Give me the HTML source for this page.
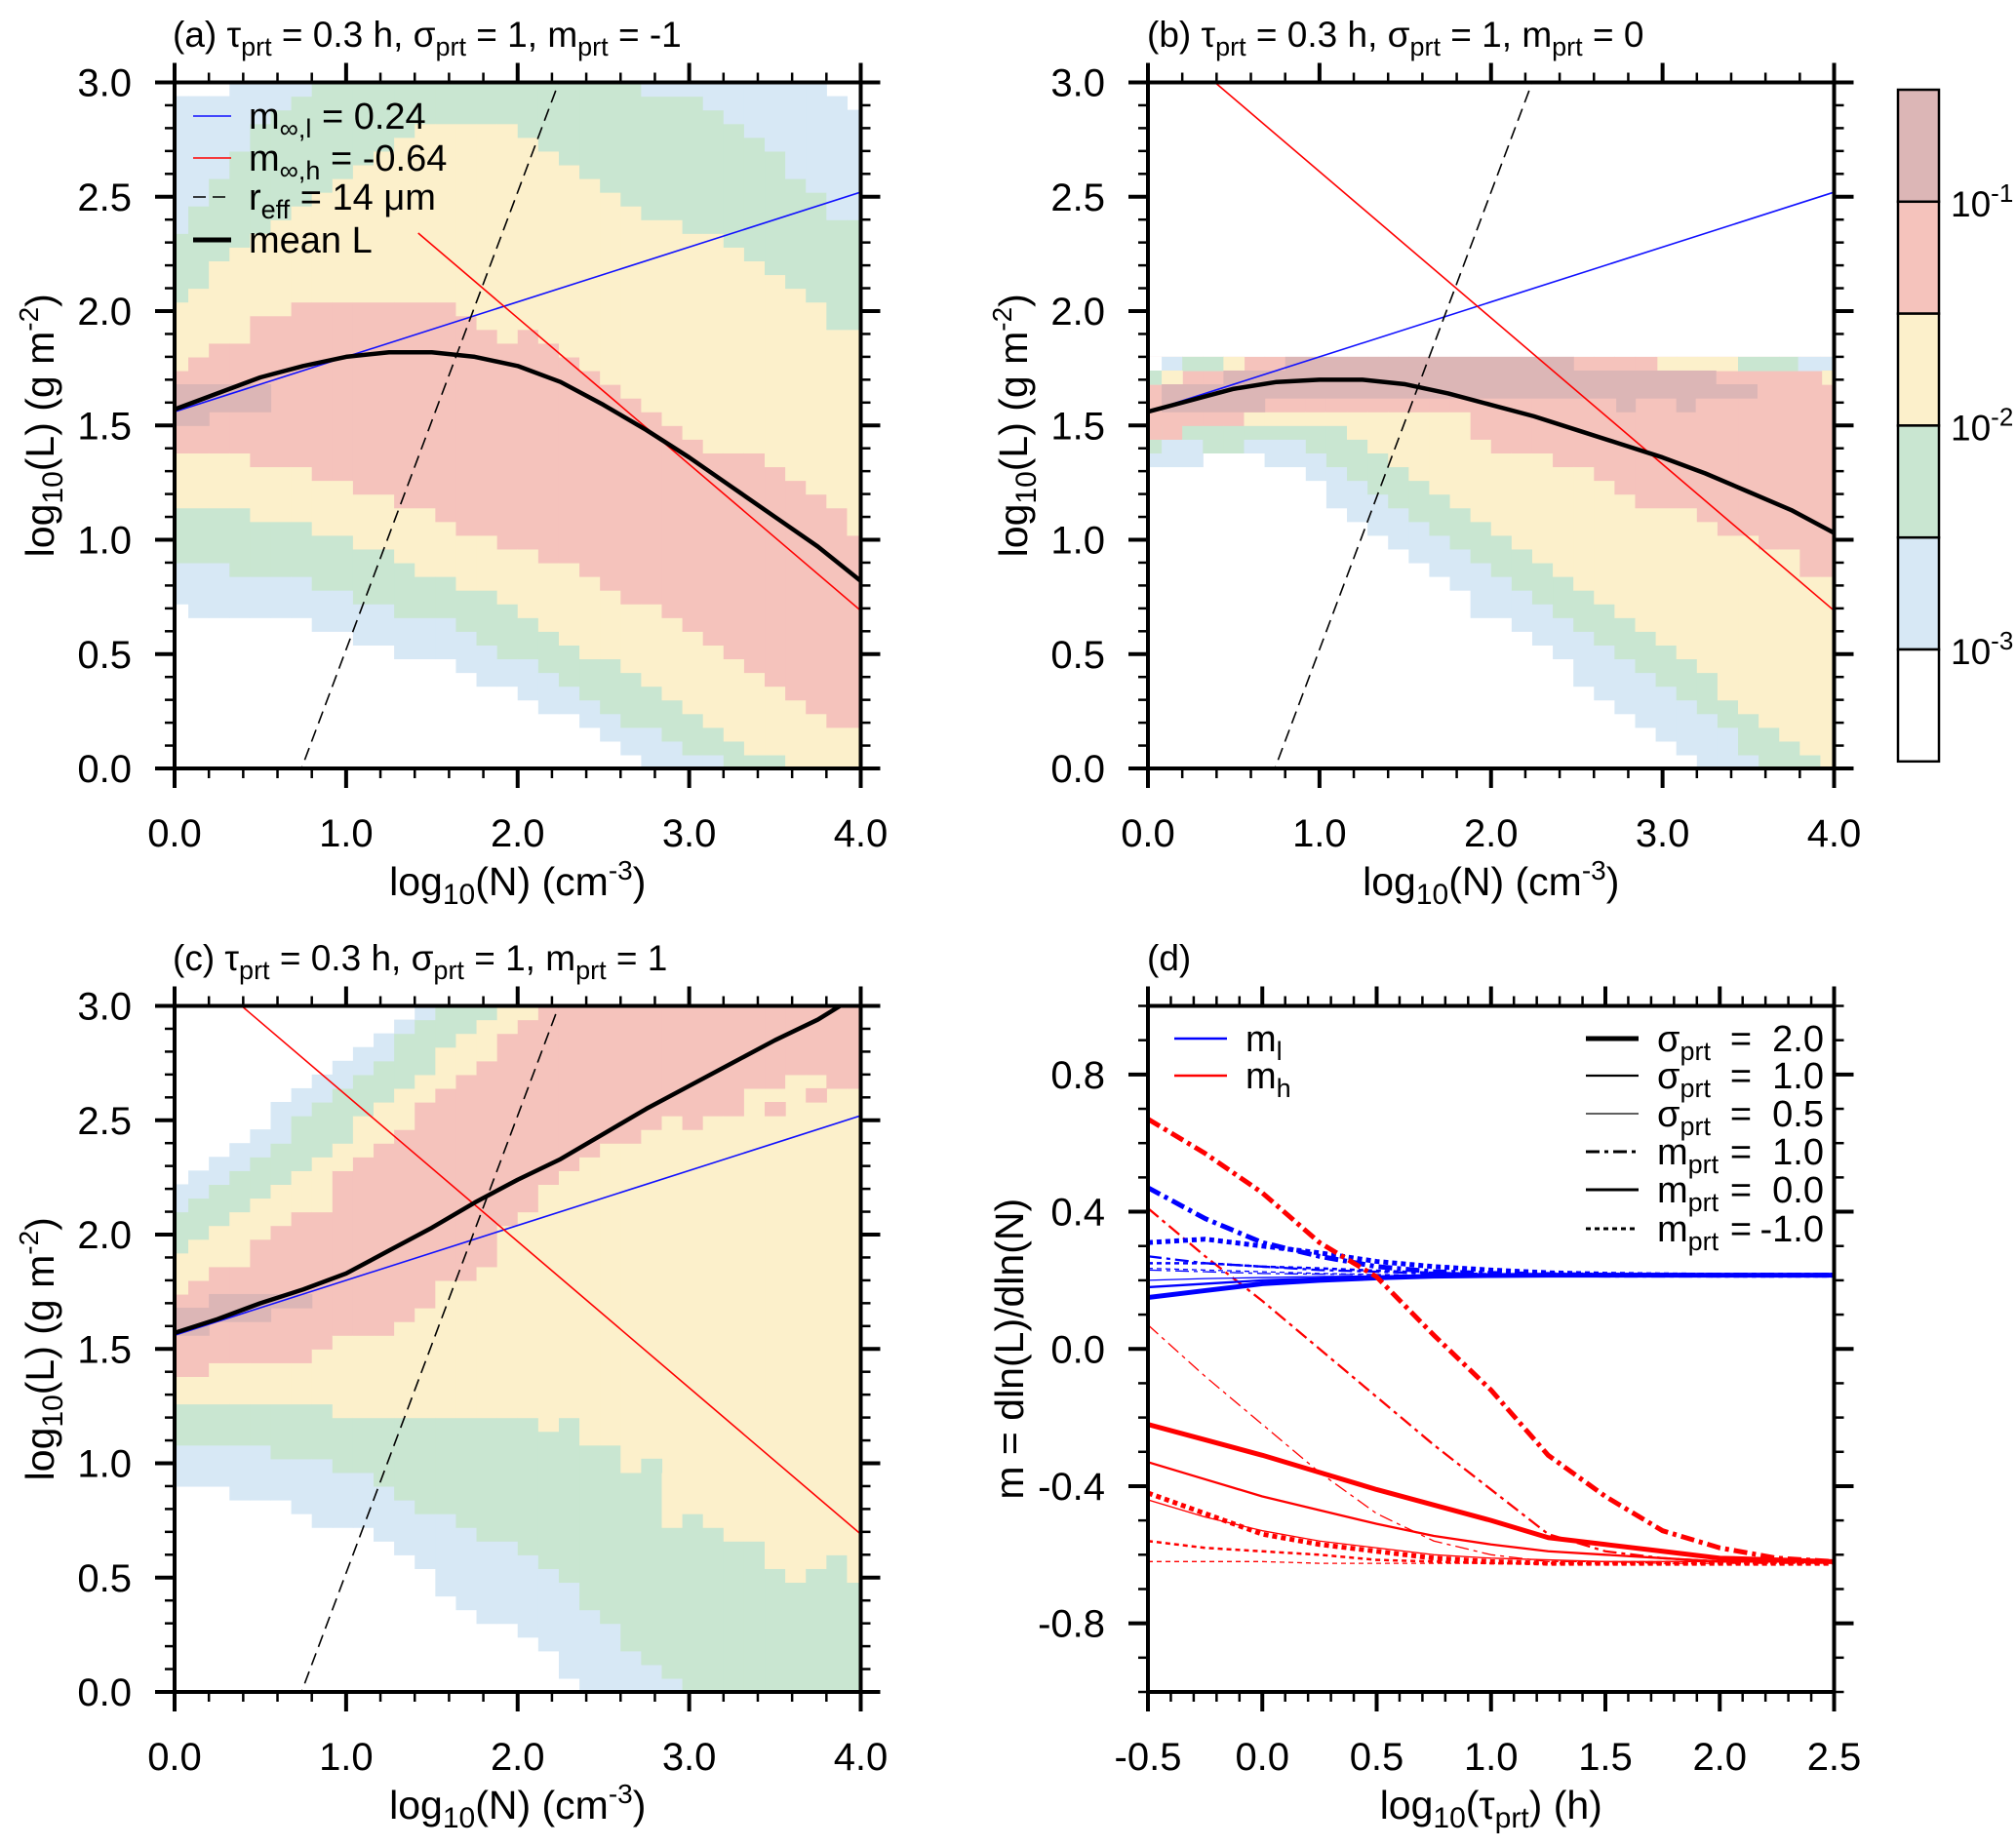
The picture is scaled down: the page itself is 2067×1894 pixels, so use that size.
<!DOCTYPE html>
<html><head><meta charset="utf-8"><style>
html,body{margin:0;padding:0;background:#fff;width:2067px;height:1894px;overflow:hidden}
svg{display:block;font-family:"Liberation Sans",sans-serif}
</style></head><body>
<svg id="fig" width="2067" height="1894" viewBox="0 0 2067 1894" xmlns="http://www.w3.org/2000/svg">
<defs>
<clipPath id="clipA"><rect x="179" y="84.5" width="703.5" height="703.5"/></clipPath>
<clipPath id="clipB"><rect x="1177" y="84.5" width="704.5" height="703.5"/></clipPath>
<clipPath id="clipC"><rect x="179" y="1031.5" width="703.5" height="703.5"/></clipPath>
<clipPath id="clipD"><rect x="1177" y="1031.5" width="704.5" height="703.5"/></clipPath>
</defs>
<g id="layer-heat"></g>
<g id="layer-lines"></g>
<g id="layer-axes"></g>
<g id="layer-text"></g>
</svg>
<script>
// ---------------- DATA ----------------
const aB1=[0.72,0.66,0.66,0.66,0.66,0.66,0.66,0.60,0.60,0.54,0.54,0.48,0.48,0.48,0.42,0.36,0.36,0.30,0.24,0.24,0.18,0.12,0.06,0,0,0,0,0,0,0,0,0,0,0];
const aB2=[0.90,0.90,0.90,0.84,0.84,0.84,0.84,0.78,0.78,0.72,0.72,0.66,0.66,0.66,0.60,0.54,0.48,0.48,0.42,0.36,0.30,0.24,0.18,0.18,0.12,0.06,0.06,0,0,0,0,0,0,0];
const aB3=[1.14,1.14,1.14,1.14,1.08,1.08,1.08,1.02,1.02,0.96,0.96,0.90,0.84,0.84,0.78,0.78,0.72,0.66,0.60,0.54,0.48,0.48,0.42,0.36,0.30,0.24,0.18,0.12,0.06,0.06,0,0,0,0];
const aB4=[1.38,1.38,1.38,1.38,1.32,1.32,1.32,1.26,1.26,1.20,1.20,1.14,1.14,1.08,1.02,1.02,0.96,0.96,0.90,0.90,0.84,0.78,0.72,0.72,0.66,0.60,0.54,0.48,0.42,0.36,0.30,0.24,0.18,0.18];
const aT4=[1.74,1.80,1.86,1.86,1.98,1.98,2.04,2.04,2.04,2.04,2.04,2.04,2.04,2.04,1.98,1.92,1.86,1.92,1.86,1.80,1.74,1.68,1.62,1.56,1.50,1.44,1.38,1.38,1.38,1.32,1.26,1.20,1.14,1.02];
const aT3=[2.04,2.10,2.22,2.28,2.34,2.40,2.46,2.52,2.58,2.64,2.70,2.76,2.82,2.82,2.82,2.82,2.82,2.76,2.70,2.64,2.58,2.52,2.46,2.40,2.40,2.34,2.34,2.28,2.22,2.16,2.10,2.04,1.92,1.92];
const aT2=[2.34,2.46,2.58,2.70,2.82,2.88,2.94,3,3,3,3,3,3,3,3,3,3,3,3,3,3,3,3,2.94,2.94,2.94,2.88,2.82,2.76,2.70,2.58,2.52,2.40,2.40];
const aT1=[2.94,2.94,2.94,3,3,3,3,3,3,3,3,3,3,3,3,3,3,3,3,3,3,3,3,3,3,3,3,3,3,3,3,3,2.94,2.88];
const aExtra=[[0,0.56,1.56,1.68,5],[0,0.2,1.50,1.56,5]];

const bB1=[1.32,1.32,1.32,1.38,1.38,1.38,1.32,1.32,1.26,1.14,1.08,1.02,0.96,0.90,0.84,0.78,0.66,0.66,0.60,0.54,0.48,0.36,0.30,0.24,0.18,0.12,0.06,0,0,0,0,0,0,0];
const bB2=[1.38,1.44,1.44,1.38,1.38,1.44,1.44,1.44,1.38,1.32,1.26,1.20,1.14,1.08,1.02,0.96,0.90,0.84,0.78,0.72,0.66,0.60,0.54,0.48,0.42,0.36,0.30,0.24,0.18,0.06,0,0,0,0];
const bB3=[1.44,1.50,1.50,1.50,1.50,1.50,1.50,1.50,1.50,1.50,1.44,1.38,1.32,1.26,1.20,1.14,1.08,1.02,0.96,0.90,0.84,0.78,0.72,0.66,0.60,0.54,0.48,0.42,0.30,0.24,0.18,0.12,0.06,0];
const bB4=[1.44,1.44,1.50,1.50,1.50,1.56,1.56,1.56,1.56,1.56,1.56,1.56,1.56,1.56,1.56,1.56,1.44,1.38,1.38,1.38,1.32,1.32,1.26,1.20,1.14,1.14,1.14,1.08,1.02,1.02,0.96,0.96,0.84,0.84];
const bT4=Array(34).fill(1.80);
const bT3=Array(34).fill(1.80);
const bT2=Array(34).fill(1.80);
const bT1=Array(34).fill(1.80);
const bExtra=[[0,0.08,1.74,1.80,0],[0.08,0.2,1.74,1.80,1],[0.2,0.44,1.74,1.80,2],[0.44,0.56,1.74,1.80,3],[0.8,2.48,1.74,1.80,5],[2.97,3.44,1.74,1.80,3],[3.44,3.79,1.74,1.80,2],[3.79,4,1.74,1.80,1],
 [0,0.08,1.68,1.74,2],[0.08,0.2,1.68,1.74,3],[0.44,3.31,1.68,1.74,5],[3.93,4,1.68,1.74,3],
 [0.08,3.55,1.62,1.68,5],[0.08,0.68,1.56,1.62,5],[2.73,2.84,1.56,1.62,5],[3.08,3.19,1.56,1.62,5]];

const cB1=[0.90,0.90,0.90,0.84,0.84,0.84,0.78,0.72,0.72,0.72,0.66,0.60,0.54,0.42,0.36,0.30,0.30,0.24,0.18,0.06,0,0,0,0,0,0,0,0,0,0,0,0,0,0];
const cB2=[1.08,1.08,1.08,1.08,1.08,1.02,1.02,1.02,0.96,0.96,0.90,0.84,0.78,0.78,0.72,0.66,0.66,0.60,0.54,0.48,0.36,0.30,0.18,0.12,0.06,0,0,0,0,0,0,0,0,0];
const cB3=[1.26,1.26,1.26,1.26,1.26,1.26,1.26,1.26,1.20,1.20,1.20,1.20,1.20,1.20,1.20,1.20,1.20,1.20,1.14,1.20,1.08,1.08,0.96,0.96,0.72,0.78,0.72,0.66,0.66,0.54,0.48,0.54,0.60,0.48];
const cB4=[1.38,1.38,1.44,1.44,1.44,1.44,1.44,1.50,1.56,1.56,1.56,1.62,1.68,1.80,1.80,1.86,2.04,2.10,2.22,2.28,2.34,2.40,2.40,2.46,2.52,2.46,2.52,2.52,2.64,2.64,2.70,2.70,2.64,2.64];
const cT4=[1.74,1.80,1.86,1.86,1.98,2.04,2.10,2.10,2.28,2.34,2.40,2.46,2.58,2.64,2.70,2.76,2.88,2.94,3,3,3,3,3,3,3,3,3,3,3,3,3,3,3,3];
const cT3=[1.92,1.98,2.04,2.10,2.16,2.22,2.28,2.34,2.40,2.52,2.58,2.64,2.70,2.82,2.88,2.94,3,3,3,3,3,3,3,3,3,3,3,3,3,3,3,3,3,3];
const cT2=[2.10,2.16,2.22,2.28,2.34,2.40,2.52,2.58,2.64,2.70,2.76,2.88,2.94,3,3,3,3,3,3,3,3,3,3,3,3,3,3,3,3,3,3,3,3,3];
const cT1=[2.22,2.28,2.34,2.40,2.46,2.58,2.64,2.70,2.76,2.82,2.88,2.94,3,3,3,3,3,3,3,3,3,3,3,3,3,3,3,3,3,3,3,3,3,3];
const cExtra=[[0,0.2,1.56,1.68,5],[0.2,0.56,1.62,1.74,5],[0.56,0.8,1.68,1.74,5],[3.44,3.56,2.52,2.58,4],[3.68,3.80,2.58,2.64,4],[2.72,2.84,0.96,1.02,2]];

const refSlopes=[0.24,-0.64,2.0];
const refIntercepts=[1.56,3.25,-1.48];
const redStartA=1.42;

const meanA_N=[0,0.25,0.5,0.75,1.0,1.25,1.5,1.75,2.0,2.25,2.5,2.75,3.0,3.25,3.5,3.75,4.0];
const meanA_L=[1.57,1.64,1.71,1.76,1.80,1.82,1.82,1.80,1.76,1.69,1.59,1.48,1.36,1.23,1.10,0.97,0.82];
const meanB_N=[0,0.25,0.5,0.75,1.0,1.25,1.5,1.75,2.0,2.25,2.5,2.75,3.0,3.25,3.5,3.75,4.0];
const meanB_L=[1.56,1.61,1.66,1.69,1.70,1.70,1.68,1.64,1.59,1.54,1.48,1.42,1.36,1.29,1.21,1.13,1.03];
const meanC_N=[0,0.25,0.5,0.75,1.0,1.25,1.5,1.75,2.0,2.25,2.5,2.75,3.0,3.25,3.5,3.75,3.88];
const meanC_L=[1.57,1.63,1.70,1.76,1.83,1.93,2.03,2.14,2.24,2.33,2.44,2.55,2.65,2.75,2.85,2.94,3.0];

const tauX=[-0.5,-0.25,0,0.25,0.5,0.75,1.0,1.25,1.5,1.75,2.0,2.25,2.5];
const blueDD2=[0.47,0.38,0.31,0.27,0.24,0.225,0.22,0.217,0.215,0.215,0.215,0.215,0.215];
const blueDot2=[0.31,0.32,0.30,0.28,0.255,0.24,0.23,0.222,0.218,0.216,0.215,0.215,0.215];
const blueSol2=[0.15,0.17,0.19,0.20,0.207,0.212,0.214,0.215,0.215,0.215,0.215,0.215,0.215];
const blueDD1=[0.27,0.25,0.24,0.23,0.225,0.22,0.217,0.215,0.215,0.215,0.215,0.215,0.215];
const blueDot1=[0.25,0.25,0.24,0.235,0.228,0.222,0.218,0.216,0.215,0.215,0.215,0.215,0.215];
const blueSol1=[0.18,0.19,0.20,0.206,0.21,0.213,0.214,0.215,0.215,0.215,0.215,0.215,0.215];
const blueDD05=[0.23,0.225,0.22,0.218,0.216,0.215,0.215,0.215,0.215,0.215,0.215,0.215,0.215];
const blueDot05=[0.235,0.23,0.225,0.22,0.217,0.215,0.215,0.215,0.215,0.215,0.215,0.215,0.215];
const blueSol05=[0.20,0.205,0.208,0.211,0.213,0.214,0.215,0.215,0.215,0.215,0.215,0.215,0.215];
const redDD2=[0.67,0.57,0.455,0.31,0.21,0.04,-0.12,-0.31,-0.43,-0.53,-0.58,-0.61,-0.62];
const redDD1=[0.41,0.27,0.14,0.0,-0.14,-0.28,-0.41,-0.54,-0.59,-0.61,-0.62,-0.62,-0.62];
const redDD05=[0.07,-0.08,-0.22,-0.36,-0.48,-0.56,-0.60,-0.62,-0.62,-0.625,-0.625,-0.625,-0.625];
const redSol2=[-0.22,-0.265,-0.31,-0.36,-0.41,-0.455,-0.50,-0.55,-0.57,-0.59,-0.61,-0.615,-0.62];
const redSol1=[-0.33,-0.38,-0.43,-0.47,-0.51,-0.545,-0.57,-0.59,-0.60,-0.61,-0.62,-0.62,-0.62];
const redSol05=[-0.44,-0.49,-0.53,-0.56,-0.58,-0.60,-0.61,-0.615,-0.62,-0.62,-0.62,-0.62,-0.62];
const redDot2=[-0.42,-0.48,-0.54,-0.57,-0.59,-0.61,-0.62,-0.625,-0.625,-0.625,-0.625,-0.625,-0.625];
const redDot1=[-0.56,-0.58,-0.59,-0.60,-0.615,-0.62,-0.625,-0.625,-0.625,-0.625,-0.625,-0.625,-0.625];
const redDot05=[-0.62,-0.62,-0.62,-0.625,-0.625,-0.625,-0.625,-0.625,-0.625,-0.625,-0.625,-0.625,-0.625];

const xTicksN=["0.0","1.0","2.0","3.0","4.0"];
const yTicksL=["0.0","0.5","1.0","1.5","2.0","2.5","3.0"];
const xTicksTau=["-0.5","0.0","0.5","1.0","1.5","2.0","2.5"];
const yTicksM=["-0.8","-0.4","0.0","0.4","0.8"];
const cbarLabels=["-1","-2","-3"];

// ---------------- RENDER ----------------
const NS="http://www.w3.org/2000/svg";
const COLORS=["#ffffff","#d7e8f5","#c9e6d1","#fcf0cb","#f5c3bc","#dcb6b6"];
const W=703.5,H=703.5;
const TF=40, AF=41, TTF=37, LF=38;
const panels={
 a:{x0:179,y0:84.5,clip:"clipA"},b:{x0:1177,y0:84.5,clip:"clipB"},
 c:{x0:179,y0:1031.5,clip:"clipC"},d:{x0:1177,y0:1031.5,clip:"clipD"}};
function mk(tag,attrs,parent){const e=document.createElementNS(NS,tag);for(const k in attrs)e.setAttribute(k,attrs[k]);parent.appendChild(e);return e;}
const heat=document.getElementById('layer-heat');
const lines=document.getElementById('layer-lines');
const axes=document.getElementById('layer-axes');
const txt=document.getElementById('layer-text');
function sxN(p,v){return p.x0+v/4*W;}
function syL(p,v){return p.y0+H-v/3*H;}
function colEdges(i){const a=i===0?0:0.08+0.12*(i-1);const b=i===33?4:0.08+0.12*i;return [a,b];}

function drawHeat(key,B1,B2,B3,B4,T4,T3,T2,T1,extra){
 const p=panels[key];
 const g=mk('g',{'clip-path':'url(#'+p.clip+')'},heat);
 
 
 for(let i=0;i<34;i++){
  const [xa,xb]=colEdges(i);
  const bands=[[B1[i],B2[i],1],[B2[i],B3[i],2],[B3[i],B4[i],3],[B4[i],T4[i],4],[T4[i],T3[i],3],[T3[i],T2[i],2],[T2[i],T1[i],1]];
  for(const [lo,hi,c] of bands){
   if(hi<=lo)continue;
   const r=mk('rect',{x:sxN(p,xa),y:syL(p,hi),width:sxN(p,xb)-sxN(p,xa)+0.6,height:syL(p,lo)-syL(p,hi)+0.6,fill:COLORS[c]},g);
   
   
  }
 }
 for(const [xa,xb,lo,hi,c] of extra){
  const r=mk('rect',{x:sxN(p,xa),y:syL(p,hi),width:sxN(p,xb)-sxN(p,xa)+0.6,height:syL(p,lo)-syL(p,hi)+0.6,fill:COLORS[c]},g);
  
  
 }
}
drawHeat('a',aB1,aB2,aB3,aB4,aT4,aT3,aT2,aT1,aExtra);
drawHeat('b',bB1,bB2,bB3,bB4,bT4,bT3,bT2,bT1,bExtra);
drawHeat('c',cB1,cB2,cB3,cB4,cT4,cT3,cT2,cT1,cExtra);

function refLines(key,redStart){
 const p=panels[key];
 const g=mk('g',{'clip-path':'url(#'+p.clip+')'},lines);
 
 
 const specs=[[0,0,4,'#1010ff',1.6,''],[1,redStart,4,'#ff0000',1.6,''],[2,0,4,'#000',1.6,'13 7']];
 for(const [k,n0,n1,col,w,dash] of specs){
  const l=mk('line',{x1:sxN(p,n0),y1:syL(p,refSlopes[k]*n0+refIntercepts[k]),x2:sxN(p,n1),y2:syL(p,refSlopes[k]*n1+refIntercepts[k]),stroke:col,'stroke-width':w},g);
  if(dash)l.setAttribute('stroke-dasharray',dash);
  
  
 }
}
refLines('a',redStartA);
refLines('b',(refIntercepts[1]-3)/-refSlopes[1]);
refLines('c',(refIntercepts[1]-3)/-refSlopes[1]);

function meanLine(key,N,L){
 const p=panels[key];
 const pts=N.map((n,i)=>sxN(p,n)+','+syL(p,L[i])).join(' ');
 const pl=mk('polyline',{points:pts,fill:'none',stroke:'#000','stroke-width':4.5,'stroke-linejoin':'round','clip-path':'url(#'+p.clip+')'},lines);
 
 
}
meanLine('a',meanA_N,meanA_L);
meanLine('b',meanB_N,meanB_L);
meanLine('c',meanC_N,meanC_L);

const pd=panels.d;
function sxT(v){return pd.x0+(v+0.5)/3*W;}
function syM(v){return pd.y0+H-(v+1)/2*H;}
const DD='14 5 4 5',DOT='5 4';
const dSeries=[
 [redDot05,'#f00',1.3,DOT],[redDot1,'#f00',2.5,DOT],[redSol05,'#f00',1.3,''],[redSol1,'#f00',2.3,''],[redDD05,'#f00',1.3,DD],[redDD1,'#f00',2.3,DD],[redSol2,'#f00',5,''],[redDot2,'#f00',5,DOT],
 [blueSol05,'#00f',1.3,''],[blueDD05,'#00f',1.3,DD],[blueDot05,'#00f',1.3,DOT],[blueSol1,'#00f',2.3,''],[blueDD1,'#00f',2.3,DD],[blueDot1,'#00f',2.5,DOT],[blueSol2,'#00f',5,''],[blueDot2,'#00f',5,DOT],[blueDD2,'#00f',5,DD],
 [redDD2,'#f00',5,DD]];
const gD=mk('g',{'clip-path':'url(#clipD)'},lines);


dSeries.forEach(([vals,col,w,dash])=>{
 const pts=tauX.map((t,i)=>sxT(t)+','+syM(vals[i])).join(' ');
 const pl=mk('polyline',{points:pts,fill:'none',stroke:col,'stroke-width':w,'stroke-linejoin':'round'},gD);
 if(dash)pl.setAttribute('stroke-dasharray',dash);
 
 
});

function frame(p,xMajors,xMinors,yMajors,yMinors,fx,fy,name){
 const g=mk('g',{},axes);
 
 
 const L=p.x0,R=p.x0+W,T=p.y0,Bm=p.y0+H;
 mk('rect',{x:L,y:T,width:W,height:H,fill:'none',stroke:'#000','stroke-width':4},g);
 const tk=(x1,y1,x2,y2,w)=>mk('line',{x1,y1,x2,y2,stroke:'#000','stroke-width':w},g);
 xMajors.forEach(v=>{const x=fx(v);tk(x,Bm,x,Bm+20,4);tk(x,T,x,T-20,4);});
 xMinors.forEach(v=>{const x=fx(v);tk(x,Bm,x,Bm+10,2.5);tk(x,T,x,T-10,2.5);});
 yMajors.forEach(v=>{const y=fy(v);tk(L,y,L-20,y,4);tk(R,y,R+20,y,4);});
 yMinors.forEach(v=>{const y=fy(v);tk(L,y,L-10,y,2.5);tk(R,y,R+10,y,2.5);});
}
function range(a,b,s){const r=[];for(let v=a;v<=b+1e-9;v+=s)r.push(+v.toFixed(4));return r;}
['a','b','c'].forEach(k=>{
 const p=panels[k];
 frame(p,range(0,4,1),range(0,4,0.2),range(0,3,0.5),range(0,3,0.1),v=>sxN(p,v),v=>syL(p,v),'axes-frame-'+k);
});
frame(pd,range(-0.5,2.5,0.5),range(-0.5,2.5,0.1),range(-0.8,0.8,0.4),range(-1,1,0.1),sxT,syM,'axes-frame-d');

function label(x,y,str,anchor,size,name){
 const t=mk('text',{x,y,'text-anchor':anchor,'font-size':size,fill:'#000'},txt);
 t.innerHTML=str;
 
 
 return t;
}
['a','b','c'].forEach(k=>{
 const p=panels[k];
 xTicksN.forEach(s=>label(sxN(p,parseFloat(s)),p.y0+H+80,s,'middle',TF,'x-tick-label'));
 yTicksL.forEach(s=>label(p.x0-44,syL(p,parseFloat(s))+14,s,'end',TF,'y-tick-label'));
 label(p.x0+W/2,p.y0+H+130,'log<tspan dy="9" font-size="30">10</tspan><tspan dy="-9">(N) (cm</tspan><tspan dy="-16" font-size="28">-3</tspan><tspan dy="16">)</tspan>','middle',AF,'x-axis-title');
 const yt=label(0,0,'log<tspan dy="9" font-size="30">10</tspan><tspan dy="-9">(L) (g m</tspan><tspan dy="-16" font-size="28">-2</tspan><tspan dy="16">)</tspan>','middle',AF,'y-axis-title');
 yt.setAttribute('transform','translate('+(p.x0-124)+','+(p.y0+H/2)+') rotate(-90)');
});
xTicksTau.forEach(s=>label(sxT(parseFloat(s)),pd.y0+H+80,s,'middle',TF,'x-tick-label'));
yTicksM.forEach(s=>label(pd.x0-44,syM(parseFloat(s))+14,s,'end',TF,'y-tick-label'));
label(pd.x0+W/2,pd.y0+H+130,'log<tspan dy="9" font-size="30">10</tspan><tspan dy="-9">(τ</tspan><tspan dy="9" font-size="30">prt</tspan><tspan dy="-9">) (h)</tspan>','middle',AF,'x-axis-title');
const ytd=label(0,0,'m = dln(L)/dln(N)','middle',AF,'y-axis-title');
ytd.setAttribute('transform','translate('+(pd.x0-128)+','+(pd.y0+H/2)+') rotate(-90)');

const sub=s=>'<tspan dy="9" font-size="27">'+s+'</tspan><tspan dy="-9">';
label(177,48,'(a) τ'+sub('prt')+' = 0.3 h, σ</tspan>'+sub('prt')+' = 1, m</tspan>'+sub('prt')+' = -1</tspan>','start',TTF,'panel-title-a');
label(1176,48,'(b) τ'+sub('prt')+' = 0.3 h, σ</tspan>'+sub('prt')+' = 1, m</tspan>'+sub('prt')+' = 0</tspan>','start',TTF,'panel-title-b');
label(177,995,'(c) τ'+sub('prt')+' = 0.3 h, σ</tspan>'+sub('prt')+' = 1, m</tspan>'+sub('prt')+' = 1</tspan>','start',TTF,'panel-title-c');
label(1176,995,'(d)','start',TTF,'panel-title-d');

const legA=mk('g',{},txt);


const legAItems=[['#1010ff',1.6,'','m<tspan dy="9" font-size="27">∞,l</tspan><tspan dy="-9"> = 0.24</tspan>'],['#ff0000',1.6,'','m<tspan dy="9" font-size="27">∞,h</tspan><tspan dy="-9"> = -0.64</tspan>'],['#000',1.6,'13 7','r<tspan dy="9" font-size="27">eff</tspan><tspan dy="-9"> = 14 μm</tspan>'],['#000',5,'','mean L']];
legAItems.forEach(([c,w,d,s],i)=>{
 const y=[119,162,202,246][i];
 const l=mk('line',{x1:198,y1:y,x2:237,y2:y,stroke:c,'stroke-width':w},legA);
 if(d)l.setAttribute('stroke-dasharray',d);
 
 
 label(255,y+13,s,'start',LF,'legend-entry');
});
[['#0000ff','m<tspan dy="9" font-size="27">l</tspan>',1065],['#ff0000','m<tspan dy="9" font-size="27">h</tspan>',1103]].forEach(([c,s,y])=>{
 const l=mk('line',{x1:1204,y1:y,x2:1258,y2:y,stroke:c,'stroke-width':2.5},txt);
 
 
 label(1277,y+13,s,'start',LF,'legend-entry');
});
const legD=[['σ','2.0',5,''],['σ','1.0',2.3,''],['σ','0.5',1.3,''],['m','1.0',3,'14 5 4 5'],['m','0.0',3,''],['m','-1.0',3,'5 4']];
legD.forEach(([sym,val,w,d],i)=>{
 const y=[1065,1103,1142,1181,1220,1260][i];
 const l=mk('line',{x1:1626,y1:y,x2:1680,y2:y,stroke:'#000','stroke-width':w},txt);
 if(d)l.setAttribute('stroke-dasharray',d);
 
 
 label(1699,y+13,sym+'<tspan dy="9" font-size="27">prt</tspan>','start',LF,'legend-entry');
 label(1785,y+13,'=','middle',LF,'legend-entry');
 label(1870,y+13,val,'end',LF,'legend-entry');
});

const cb=mk('g',{},axes);


const cbColors=[5,4,3,2,1,0];
cbColors.forEach((c,i)=>{
 const r=mk('rect',{x:1946,y:92+i*114.8,width:42,height:114.8,fill:COLORS[c],stroke:'#000','stroke-width':2.5},cb);
 
 
});
cbarLabels.forEach((s,i)=>{
 const y=92+114.8*(1+2*i);
 label(2000,y+15,'10<tspan dy="-15" font-size="26">'+s+'</tspan>','start',37,'colorbar-label');
});
</script>
</body></html>
